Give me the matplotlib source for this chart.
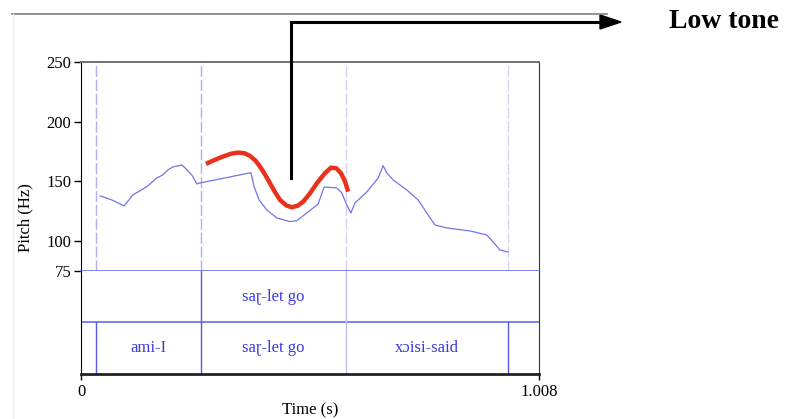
import numpy as np
import matplotlib.pyplot as plt
from matplotlib.lines import Line2D

# pitch track (s, Hz)
pitch_t = [0.042, 0.068, 0.095, 0.114, 0.145, 0.167, 0.180, 0.191, 0.202, 0.222,
           0.229, 0.244, 0.255, 0.262, 0.374, 0.381, 0.392, 0.409, 0.431, 0.460,
           0.475, 0.497, 0.522, 0.535, 0.563, 0.574, 0.585, 0.594, 0.603, 0.629,
           0.654, 0.665, 0.673, 0.687, 0.717, 0.742, 0.761, 0.779, 0.805, 0.856,
           0.893, 0.907, 0.922, 0.940]
pitch_hz = [137.8, 134.4, 129.4, 138.6, 145.6, 152.9, 155.4, 159.6, 162.1, 163.8,
            161.3, 155.4, 147.9, 148.7, 157.3, 145.6, 134.4, 126.0, 119.3, 116.2,
            117.0, 123.5, 131.0, 145.3, 144.5, 140.3, 130.2, 123.5, 131.9, 141.1,
            152.9, 163.2, 157.1, 151.2, 142.8, 134.4, 123.5, 113.4, 110.9, 108.4,
            105.0, 99.1, 92.4, 90.7]

# red stylised contour
red_t = [0.275, 0.294, 0.312, 0.330, 0.346, 0.360, 0.372, 0.384, 0.394, 0.405, 0.416,
         0.427, 0.438, 0.452, 0.464, 0.477, 0.489, 0.504, 0.519, 0.536, 0.550, 0.562,
         0.572, 0.581, 0.588]
red_hz = [164.7, 168.0, 170.8, 173.2, 174.2, 173.6, 171.4, 167.5, 162.4, 155.8, 148.4,
          141.0, 134.4, 129.8, 128.3, 129.6, 133.0, 140.0, 148.4, 156.5, 161.5, 161.0,
          157.0, 150.0, 141.4]

boundaries = [0.033, 0.264, 0.583, 0.940]
tier1_bounds = [0.264, 0.583]
tier1_labels = [("saɽ-let go", 0.4235)]
tier2_labels = [("ami-I", 0.1485), ("saɽ-let go", 0.4235), ("xɔisi-said", 0.7615)]

t_end = 1.008
W, H = 787, 419
serif = "Liberation Serif"

fig = plt.figure(figsize=(W / 100, H / 100), dpi=100)

def fx(px):
    return px / W

def fy(py):
    return 1 - py / H

# pitch panel
ax = fig.add_axes([fx(81), fy(270.7), fx(539) - fx(81), fy(62.3) - fy(270.7)])
ax.set_xlim(0, t_end)
ax.set_ylim(75, 250)
for b in boundaries:
    c = "#b0b0f2" if b < 0.5 else "#d3d3f8"
    ax.axvline(b, color=c, lw=1, ls=(0, (8, 2)))
ax.plot(pitch_t, pitch_hz, color="#7373e8", lw=0.9)
ax.plot(red_t, red_hz, color="#e8321e", lw=3.2, solid_capstyle="butt", solid_joinstyle="round")
ax.set_xticks([])
ax.set_yticks([75, 100, 150, 200, 250])
ax.tick_params(axis="y", direction="out", length=5, width=1, pad=2, labelsize=12)
for lab in ax.get_yticklabels():
    lab.set_fontfamily(serif)
ax.spines["top"].set_color("#707070")
ax.spines["top"].set_linewidth(1.4)
ax.spines["left"].set_color("black")
ax.spines["right"].set_color("#333333")
ax.spines["bottom"].set_color("#6a6af0")
ax.spines["bottom"].set_linewidth(1.2)

# tier panel
tx = fig.add_axes([fx(81), fy(374), fx(539) - fx(81), fy(270.7) - fy(374)])
tx.set_xlim(0, t_end)
tx.set_ylim(0, 2)
tx.axhline(1, color="#6a6af0", lw=1.2)
for b in tier1_bounds:
    c = "#5858ea" if b < 0.5 else "#c0c0f3"
    tx.plot([b, b], [1, 2], color=c, lw=1)
for b in boundaries:
    c = "#c0c0f3" if 0.5 < b < 0.9 else "#5858ea"
    tx.plot([b, b], [0, 1], color=c, lw=1)
for s, x in tier1_labels:
    tx.text(x, 1.5, s, ha="center", va="center", color="#3a3ae0", fontsize=12, family=serif)
for s, x in tier2_labels:
    tx.text(x, 0.5, s, ha="center", va="center", color="#3a3ae0", fontsize=12, family=serif)
tx.set_yticks([])
tx.set_xticks([0, t_end])
tx.set_xticklabels(["0", "1.008"], fontfamily=serif, fontsize=12)
tx.tick_params(axis="x", direction="out", length=4, width=1, pad=3)
tx.set_xlabel("Time (s)", fontfamily=serif, fontsize=12, labelpad=2)
tx.spines["top"].set_visible(False)
tx.spines["bottom"].set_linewidth(2)
tx.spines["bottom"].set_color("#222222")
tx.spines["right"].set_color("#333333")

fig.text(fx(25), fy(218), "Pitch (Hz)", rotation=90, ha="center", va="center",
         fontsize=12, family=serif)

# picture border lines
fig.add_artist(Line2D([fx(12), fx(607)], [fy(14), fy(14)], color="#808080", lw=1.2))
fig.add_artist(Line2D([fx(13), fx(13)], [fy(14), fy(419)], color="#eeeeee", lw=1))

# low tone pointer
fig.add_artist(Line2D([fx(291), fx(291)], [fy(178), fy(22)], color="black", lw=2.2,
                      solid_capstyle="projecting"))
fig.add_artist(Line2D([fx(291), fx(602)], [fy(22), fy(22)], color="black", lw=2.2,
                      solid_capstyle="projecting"))
fig.patches.append(plt.Polygon([[fx(600), fy(15)], [fx(621), fy(22)], [fx(600), fy(29)]],
                               closed=True, color="black", transform=fig.transFigure))
fig.text(fx(669), fy(21), "Low tone", ha="left", va="center", fontsize=20,
         fontweight="bold", family=serif)

fig.savefig("out.png", dpi=100)
